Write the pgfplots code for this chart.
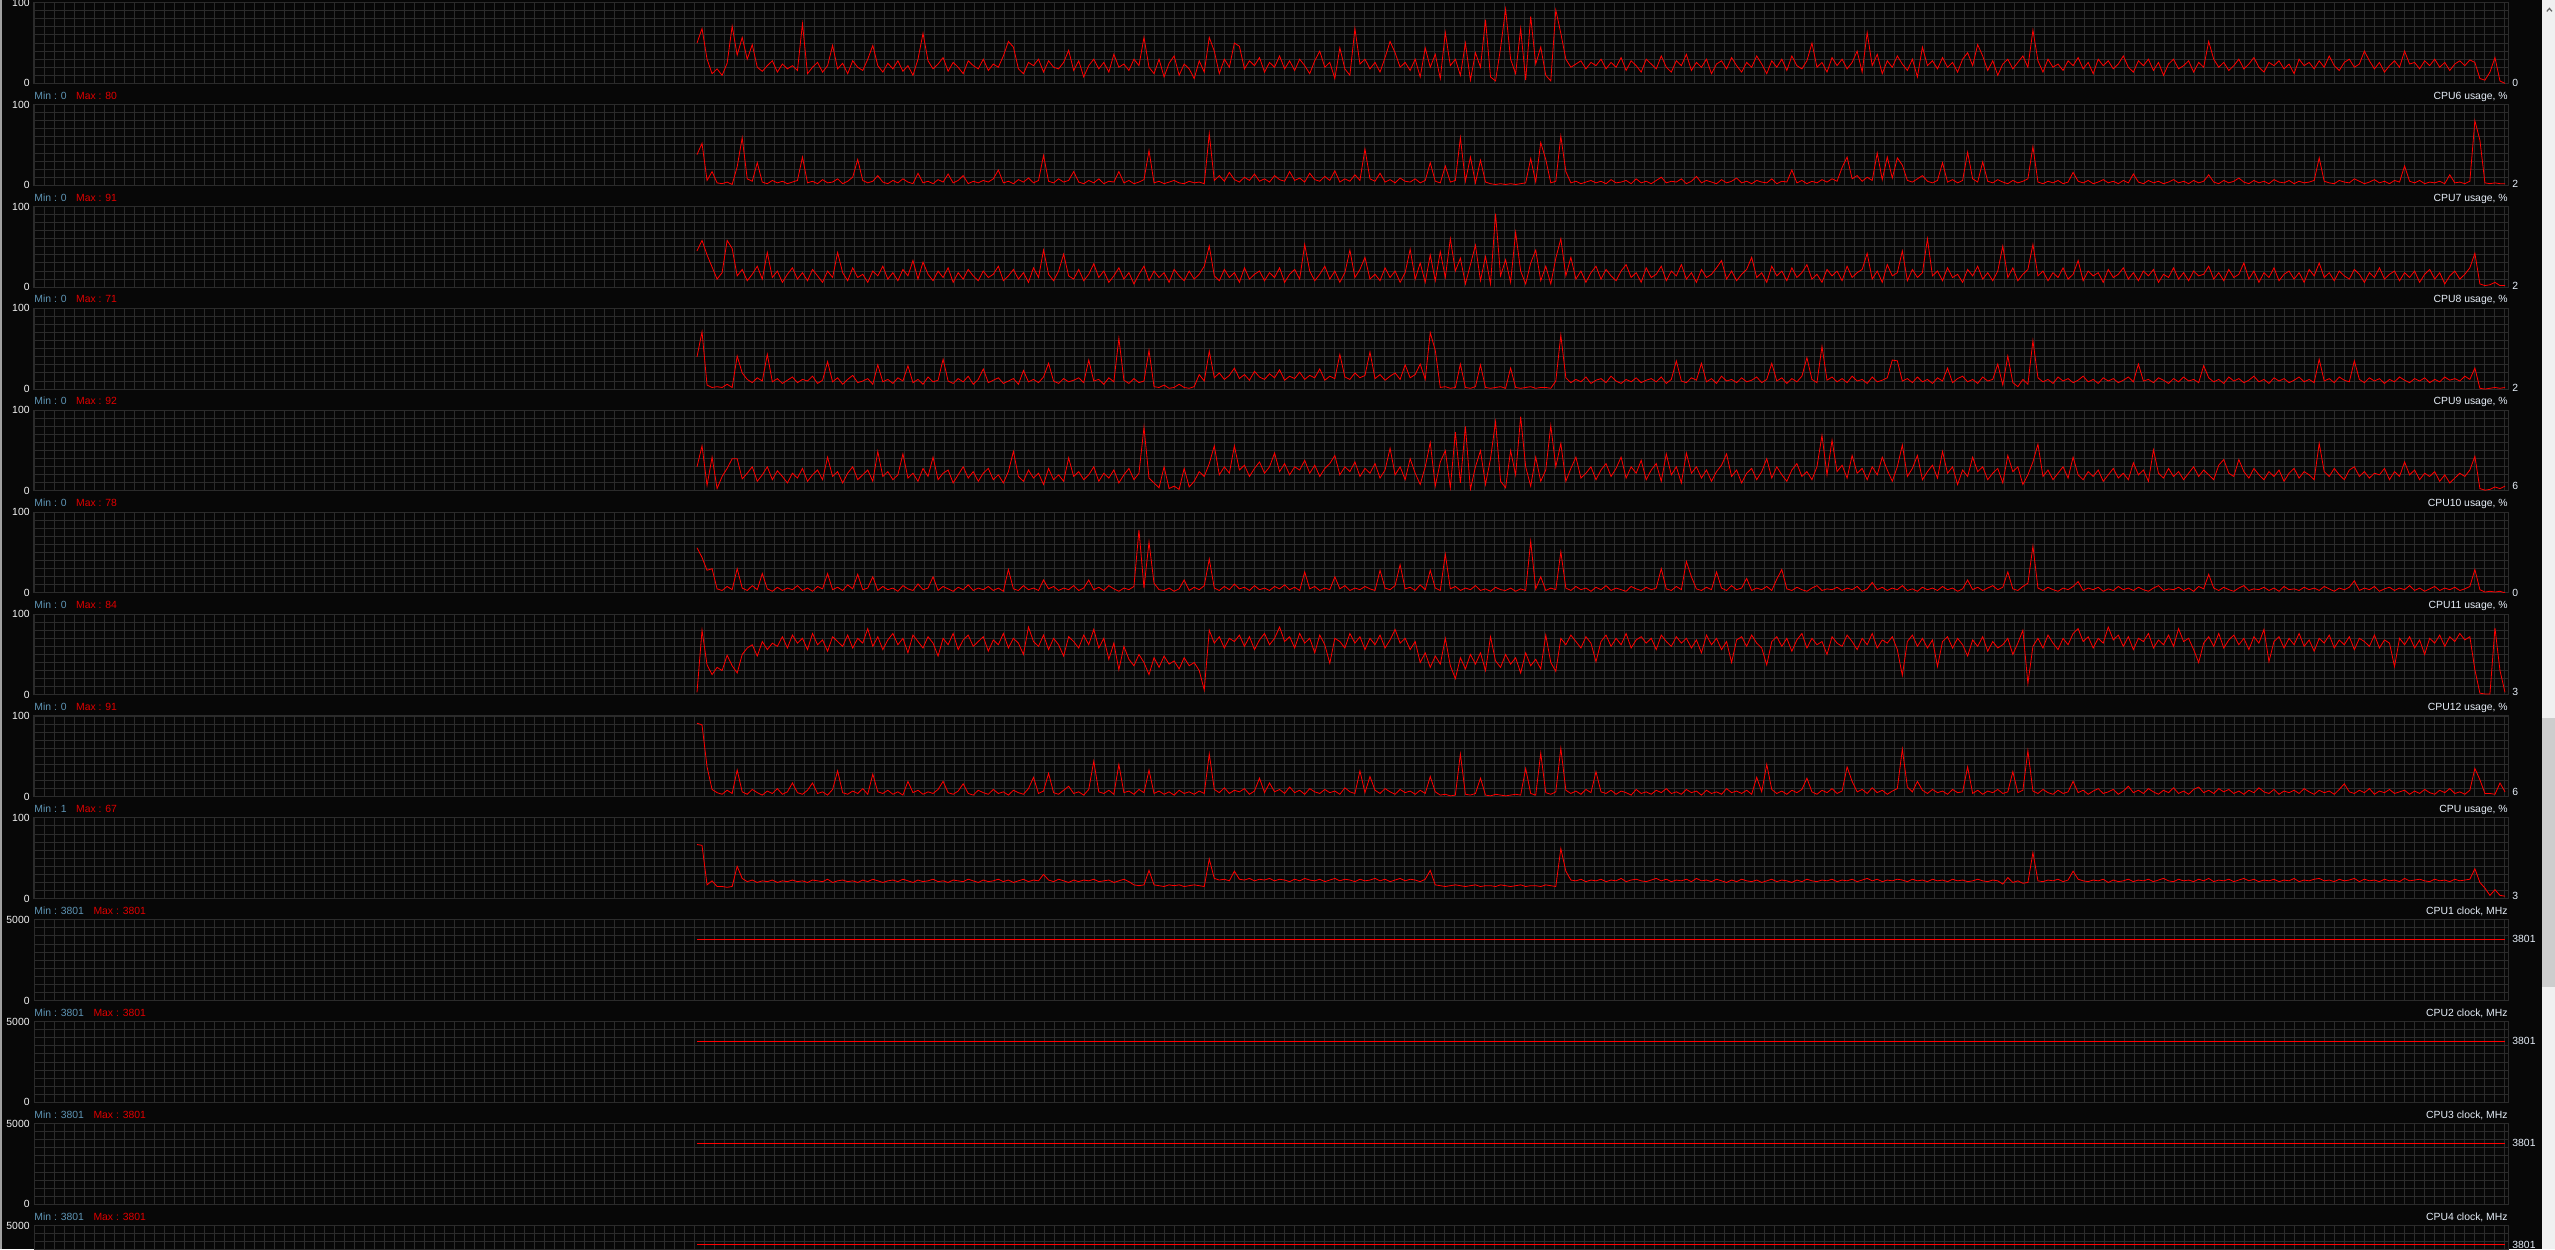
\documentclass[border=0pt]{standalone}
\usepackage{pgfplots}
\pgfplotsset{compat=1.18}
\usepackage{fontspec}
\setmainfont{Liberation Sans}
\definecolor{bgc}{HTML}{070707}
\definecolor{gridc}{HTML}{2B2B2B}
\definecolor{linered}{HTML}{FF0000}
\definecolor{minc}{HTML}{5E94B4}
\definecolor{maxc}{HTML}{E00000}
\definecolor{namec}{HTML}{E6EEF8}
\definecolor{tickc}{HTML}{F2F2F2}
\definecolor{sbtrack}{HTML}{F0F0F0}
\definecolor{sbthumb}{HTML}{CDCDCD}
\newcommand\lbl{\fontsize{5.2pt}{6pt}\selectfont}
\pgfplotsset{
 panel/.style={
  anchor=south west, scale only axis, width=1237pt, height=40.35pt,
  xmin=0, xmax=2474, xtick=\empty,
  axis line style={draw=gridc, line width=0.5pt},
  tick style={draw=none}, major tick length=0pt,
  clip mode=individual,
  /pgf/number format/assume math mode=true,
  yticklabel style={font=\lbl, text=tickc, inner sep=0pt, xshift=-2pt},
  cycle list={{color=linered, mark=none, line width=0.7pt, line join=round}},
 },
 usage/.style={panel, ymin=0, ymax=100, ytick={0,100}, yticklabels={0,100}},
 clock/.style={panel, ymin=0, ymax=5000, ytick={0,5000}, yticklabels={0,5000}},
}
\tikzset{vlab/.style={anchor=west, inner sep=0pt, font=\lbl, text=namec, xshift=2pt}}
\newcommand\head[4]{%
 \node[anchor=base west, inner sep=0pt, font=\lbl] at (17pt,#1pt) {\textcolor{minc}{Min : #2}\hspace{4.8pt}\textcolor{maxc}{Max : #3}};
 \node[anchor=base east, inner sep=0pt, font=\lbl, text=namec] at (1254pt,#1pt) {#4};}
\begin{document}
\begin{tikzpicture}
\fill[bgc] (0,0) rectangle (1277.5pt,624.5pt);
\begin{scope}
\clip (0,0) rectangle (1277.5pt,624.5pt);
\foreach \b in {582.8,531.85,480.9,429.95,379.0,328.05,277.1,226.15,175.2,124.25,73.3,22.35,-28.6}{
 \draw[gridc, line width=0.5pt, xstep=5pt, ystep=4.035pt, shift={(17pt,\b pt)}] (0,0) grid (1237pt,40.35pt);
}
% panel 0 (CPU5)
\begin{axis}[usage, at={(17pt,582.8pt)}]
\addplot table[row sep=\\, header=false, x expr=663+\coordindex*5.0222, y index=0] {
50\\68\\30\\12\\18\\10\\25\\71\\35\\57\\30\\48\\20\\15\\22\\28\\14\\24\\18\\
22\\16\\74\\12\\20\\26\\14\\22\\47\\18\\25\\12\\28\\20\\16\\30\\47\\22\\14\\
25\\18\\28\\15\\22\\10\\30\\62\\28\\18\\24\\32\\15\\26\\20\\12\\28\\22\\18\\
30\\16\\24\\20\\34\\52\\45\\18\\12\\26\\22\\30\\14\\28\\20\\18\\26\\41\\16\\
28\\8\\22\\30\\18\\26\\14\\36\\20\\24\\16\\30\\22\\57\\20\\12\\30\\8\\25\\
34\\10\\24\\18\\6\\28\\14\\57\\40\\12\\30\\20\\50\\46\\18\\28\\22\\32\\14\\
26\\20\\34\\18\\28\\16\\30\\22\\12\\28\\40\\20\\26\\6\\44\\18\\10\\68\\24\\
30\\18\\26\\14\\32\\52\\38\\20\\26\\16\\30\\8\\44\\20\\36\\6\\63\\22\\30\\
10\\50\\4\\38\\20\\79\\8\\3\\44\\92\\30\\12\\68\\4\\83\\24\\45\\10\\3\\
91\\62\\30\\20\\24\\28\\18\\26\\22\\30\\18\\26\\20\\32\\16\\28\\22\\14\\30\\
24\\18\\34\\20\\14\\28\\22\\36\\16\\26\\20\\30\\12\\24\\28\\18\\32\\22\\14\\
26\\20\\34\\24\\12\\28\\20\\30\\16\\34\\22\\18\\28\\50\\20\\26\\14\\32\\22\\
30\\18\\26\\40\\14\\63\\22\\36\\12\\28\\20\\34\\24\\16\\30\\8\\45\\22\\28\\
18\\32\\20\\26\\14\\30\\38\\22\\48\\34\\16\\28\\10\\24\\30\\18\\26\\34\\20\\
66\\28\\14\\30\\20\\24\\16\\28\\22\\32\\18\\26\\12\\30\\22\\28\\18\\24\\34\\
20\\14\\28\\22\\30\\16\\26\\10\\24\\30\\18\\22\\28\\14\\26\\20\\52\\30\\20\\
26\\16\\22\\30\\18\\24\\32\\20\\14\\26\\22\\28\\18\\24\\12\\30\\22\\26\\18\\
28\\20\\34\\22\\16\\26\\30\\20\\24\\40\\28\\18\\26\\14\\22\\28\\20\\40\\24\\
26\\18\\28\\22\\30\\20\\26\\16\\24\\28\\22\\29\\26\\6\\4\\14\\32\\3\\0\\
};
\node[vlab] at (axis cs:2474,0) {0};
\end{axis}
% panel 1 (CPU6)
\begin{axis}[usage, at={(17pt,531.85pt)}]
\addplot table[row sep=\\, header=false, x expr=663+\coordindex*5.0222, y index=0] {
38\\52\\6\\17\\3\\2\\4\\1\\23\\59\\8\\5\\28\\4\\2\\6\\3\\5\\2\\
4\\6\\35\\3\\5\\2\\7\\3\\4\\8\\2\\5\\10\\32\\6\\3\\5\\12\\4\\
2\\6\\3\\8\\4\\2\\15\\3\\5\\2\\7\\4\\14\\3\\6\\12\\2\\5\\3\\
6\\4\\8\\19\\3\\5\\2\\7\\4\\9\\3\\6\\37\\5\\3\\8\\4\\6\\17\\
4\\2\\6\\3\\8\\2\\5\\4\\17\\3\\6\\2\\4\\7\\43\\3\\5\\2\\4\\
6\\3\\2\\5\\3\\4\\2\\64\\6\\12\\5\\16\\7\\4\\10\\6\\14\\5\\8\\
4\\12\\7\\5\\17\\6\\9\\4\\15\\7\\5\\11\\6\\18\\4\\8\\5\\13\\6\\
45\\8\\5\\15\\4\\7\\3\\9\\5\\4\\8\\3\\6\\28\\5\\3\\24\\4\\6\\
59\\5\\35\\3\\31\\4\\2\\1\\2\\1\\2\\1\\2\\3\\33\\4\\53\\32\\3\\
5\\61\\17\\3\\5\\2\\4\\6\\3\\5\\2\\7\\3\\4\\6\\2\\8\\3\\5\\
2\\6\\10\\3\\5\\4\\8\\2\\5\\11\\3\\6\\4\\2\\7\\3\\5\\9\\3\\
5\\2\\6\\4\\3\\8\\2\\5\\4\\19\\3\\6\\2\\5\\3\\7\\4\\8\\5\\
22\\35\\8\\12\\5\\10\\6\\40\\7\\35\\9\\34\\25\\6\\4\\8\\12\\5\\3\\
6\\28\\4\\7\\3\\6\\41\\8\\4\\29\\5\\3\\7\\4\\2\\6\\3\\5\\8\\
48\\4\\2\\5\\3\\6\\2\\4\\16\\5\\3\\6\\2\\4\\7\\3\\5\\2\\6\\
3\\14\\4\\2\\6\\3\\5\\2\\4\\7\\3\\5\\2\\6\\3\\5\\13\\4\\2\\
6\\3\\5\\9\\4\\2\\6\\3\\5\\2\\7\\4\\3\\6\\2\\5\\3\\4\\6\\
34\\5\\3\\2\\6\\4\\3\\8\\5\\2\\4\\7\\3\\5\\2\\6\\4\\24\\5\\
3\\6\\2\\4\\3\\5\\2\\13\\3\\4\\2\\5\\80\\56\\3\\2\\3\\2\\2\\
};
\node[vlab] at (axis cs:2474,2) {2};
\end{axis}
% panel 2 (CPU7)
\begin{axis}[usage, at={(17pt,480.9pt)}]
\addplot table[row sep=\\, header=false, x expr=663+\coordindex*5.0222, y index=0] {
45\\58\\40\\25\\10\\18\\58\\48\\14\\22\\8\\16\\26\\10\\43\\12\\20\\6\\16\\
24\\10\\18\\8\\22\\14\\6\\20\\12\\43\\18\\8\\24\\12\\16\\6\\20\\14\\26\\
10\\18\\8\\22\\14\\33\\10\\31\\16\\8\\20\\12\\24\\6\\18\\10\\22\\14\\8\\
20\\12\\16\\26\\8\\14\\22\\10\\18\\6\\24\\12\\46\\16\\8\\20\\41\\14\\10\\
22\\8\\16\\29\\12\\20\\6\\14\\24\\10\\18\\4\\16\\26\\8\\20\\12\\18\\6\\
22\\14\\8\\20\\10\\16\\26\\51\\14\\8\\22\\12\\18\\6\\24\\10\\16\\20\\8\\
18\\12\\24\\6\\16\\22\\10\\53\\20\\8\\16\\26\\10\\20\\6\\18\\46\\12\\22\\
37\\10\\16\\8\\24\\12\\20\\6\\18\\47\\10\\30\\6\\40\\8\\44\\12\\60\\20\\
36\\4\\28\\52\\8\\38\\4\\91\\14\\34\\6\\68\\20\\4\\30\\46\\8\\26\\4\\
36\\60\\14\\37\\10\\20\\6\\18\\26\\10\\22\\14\\8\\20\\28\\12\\18\\6\\24\\
12\\16\\26\\8\\20\\14\\28\\10\\18\\6\\22\\12\\16\\24\\33\\10\\20\\8\\16\\
22\\37\\12\\18\\6\\26\\14\\20\\8\\24\\12\\18\\28\\10\\16\\6\\22\\14\\20\\
8\\26\\12\\18\\22\\42\\10\\20\\6\\28\\14\\18\\45\\8\\22\\12\\18\\60\\14\\
20\\8\\24\\12\\16\\6\\22\\14\\26\\10\\18\\8\\20\\51\\12\\24\\8\\16\\22\\
53\\14\\20\\8\\18\\12\\24\\10\\16\\33\\8\\20\\14\\18\\6\\22\\12\\16\\24\\
10\\18\\8\\20\\14\\22\\6\\16\\12\\24\\10\\18\\8\\20\\14\\16\\26\\10\\18\\
8\\22\\12\\16\\30\\10\\20\\6\\18\\12\\24\\8\\16\\20\\10\\18\\6\\22\\14\\
30\\12\\18\\8\\20\\14\\10\\22\\16\\6\\18\\12\\24\\10\\16\\20\\8\\18\\12\\
20\\6\\16\\22\\10\\18\\4\\14\\20\\10\\16\\24\\42\\4\\2\\3\\6\\2\\2\\
};
\node[vlab] at (axis cs:2474,2) {2};
\end{axis}
% panel 3 (CPU8)
\begin{axis}[usage, at={(17pt,429.95pt)}]
\addplot table[row sep=\\, header=false, x expr=663+\coordindex*5.0222, y index=0] {
40\\71\\5\\2\\3\\2\\6\\2\\41\\20\\12\\8\\14\\10\\43\\9\\13\\7\\11\\
15\\8\\12\\10\\16\\7\\11\\34\\9\\14\\6\\12\\17\\8\\10\\13\\6\\30\\9\\
12\\7\\14\\10\\29\\8\\12\\6\\15\\9\\11\\37\\10\\7\\13\\9\\16\\6\\12\\
25\\8\\11\\14\\7\\10\\13\\6\\23\\9\\12\\8\\15\\32\\10\\7\\13\\9\\11\\
14\\8\\36\\10\\12\\6\\14\\9\\63\\11\\7\\13\\8\\10\\48\\3\\2\\5\\1\\
2\\6\\2\\1\\3\\18\\10\\47\\14\\20\\12\\17\\26\\13\\18\\11\\22\\15\\12\\
19\\14\\24\\11\\16\\13\\21\\12\\17\\14\\25\\11\\16\\13\\43\\15\\12\\20\\14\\
17\\46\\13\\18\\11\\16\\20\\12\\30\\14\\18\\31\\12\\70\\48\\2\\3\\1\\2\\
31\\2\\1\\3\\30\\2\\1\\2\\3\\1\\26\\2\\1\\2\\3\\1\\2\\2\\1\\
10\\67\\14\\8\\12\\9\\15\\7\\11\\13\\8\\16\\10\\7\\12\\9\\14\\8\\11\\
13\\9\\15\\7\\12\\35\\10\\8\\14\\11\\32\\9\\13\\7\\16\\10\\12\\8\\14\\
9\\11\\15\\8\\12\\32\\10\\14\\7\\13\\9\\16\\39\\12\\8\\53\\11\\15\\9\\
13\\8\\16\\10\\12\\7\\15\\9\\11\\14\\36\\35\\10\\13\\8\\15\\9\\12\\7\\
14\\10\\26\\8\\13\\16\\9\\12\\7\\15\\10\\12\\31\\5\\41\\8\\3\\12\\6\\
60\\14\\9\\12\\7\\15\\10\\13\\8\\11\\16\\9\\12\\7\\14\\10\\13\\8\\11\\
15\\9\\31\\10\\12\\8\\14\\11\\7\\13\\9\\15\\10\\12\\8\\29\\14\\9\\12\\
7\\15\\10\\13\\8\\11\\16\\9\\12\\7\\14\\10\\13\\8\\11\\15\\9\\12\\8\\
37\\10\\13\\8\\15\\11\\9\\35\\12\\8\\14\\10\\13\\7\\12\\9\\15\\11\\8\\
13\\10\\14\\8\\12\\9\\15\\11\\13\\10\\16\\12\\26\\1\\0\\1\\2\\1\\2\\
};
\node[vlab] at (axis cs:2474,2) {2};
\end{axis}
% panel 4 (CPU9)
\begin{axis}[usage, at={(17pt,379.0pt)}]
\addplot table[row sep=\\, header=false, x expr=663+\coordindex*5.0222, y index=0] {
30\\56\\7\\42\\3\\18\\28\\40\\40\\15\\22\\30\\12\\20\\30\\14\\25\\18\\10\\
22\\16\\28\\12\\20\\26\\14\\42\\18\\24\\10\\22\\30\\14\\20\\26\\12\\49\\18\\
24\\14\\20\\46\\16\\22\\12\\28\\18\\42\\14\\22\\26\\10\\20\\30\\16\\24\\12\\
22\\28\\14\\20\\10\\24\\49\\18\\12\\26\\16\\22\\8\\28\\14\\20\\12\\41\\18\\
24\\14\\20\\30\\12\\22\\16\\26\\10\\20\\28\\14\\22\\79\\16\\10\\4\\30\\3\\
6\\2\\28\\5\\12\\24\\18\\34\\56\\20\\30\\22\\56\\26\\32\\18\\28\\36\\22\\
30\\47\\24\\34\\20\\30\\26\\38\\22\\32\\18\\28\\34\\44\\20\\30\\24\\36\\18\\
28\\22\\34\\16\\26\\53\\20\\30\\14\\40\\22\\8\\30\\60\\6\\36\\50\\4\\73\\
10\\80\\2\\30\\50\\8\\40\\86\\12\\4\\50\\20\\92\\30\\6\\42\\12\\26\\81\\
30\\59\\12\\28\\42\\16\\22\\30\\14\\26\\34\\18\\28\\42\\16\\30\\22\\38\\14\\
26\\34\\12\\46\\20\\30\\10\\47\\22\\30\\16\\26\\12\\24\\32\\46\\18\\26\\10\\
22\\28\\14\\24\\40\\16\\30\\20\\12\\26\\34\\18\\24\\14\\30\\69\\20\\63\\24\\
32\\16\\44\\22\\28\\14\\30\\20\\42\\26\\12\\30\\57\\18\\28\\44\\14\\24\\32\\
16\\49\\22\\30\\8\\26\\18\\42\\24\\30\\14\\22\\28\\10\\44\\24\\30\\8\\20\\
36\\58\\18\\26\\14\\22\\30\\16\\42\\20\\14\\24\\18\\26\\12\\20\\28\\16\\22\\
14\\35\\20\\26\\12\\51\\22\\16\\28\\18\\24\\14\\22\\30\\18\\26\\20\\14\\32\\
39\\22\\18\\39\\24\\16\\28\\20\\14\\24\\18\\26\\12\\22\\28\\16\\24\\20\\14\\
59\\24\\18\\28\\20\\14\\26\\30\\18\\24\\16\\22\\20\\28\\14\\24\\18\\36\\20\\
26\\14\\22\\18\\24\\12\\20\\10\\16\\22\\18\\26\\43\\3\\1\\2\\5\\3\\6\\
};
\node[vlab] at (axis cs:2474,6) {6};
\end{axis}
% panel 5 (CPU10)
\begin{axis}[usage, at={(17pt,328.05pt)}]
\addplot table[row sep=\\, header=false, x expr=663+\coordindex*5.0222, y index=0] {
56\\44\\28\\30\\5\\3\\8\\4\\30\\6\\3\\9\\4\\24\\5\\2\\7\\3\\6\\
4\\9\\3\\6\\2\\8\\5\\24\\4\\7\\3\\10\\5\\23\\4\\6\\20\\3\\8\\
4\\6\\2\\9\\5\\3\\11\\4\\6\\20\\3\\8\\5\\2\\7\\4\\10\\3\\6\\
4\\8\\3\\6\\2\\29\\5\\3\\9\\4\\6\\3\\16\\5\\8\\3\\6\\4\\9\\
3\\6\\16\\4\\7\\3\\9\\5\\2\\6\\4\\8\\78\\6\\63\\12\\4\\3\\6\\
2\\5\\16\\3\\7\\4\\9\\42\\6\\3\\8\\4\\11\\5\\7\\3\\9\\4\\6\\
3\\8\\5\\10\\4\\7\\3\\26\\5\\8\\3\\6\\4\\20\\5\\9\\3\\6\\4\\
8\\5\\3\\28\\6\\4\\9\\35\\5\\7\\3\\10\\4\\28\\6\\3\\48\\5\\8\\
3\\6\\4\\9\\3\\5\\2\\7\\4\\3\\6\\2\\5\\3\\64\\5\\20\\3\\6\\
4\\51\\6\\3\\8\\4\\6\\2\\7\\4\\9\\3\\6\\4\\2\\8\\5\\3\\7\\
4\\6\\30\\5\\3\\8\\4\\39\\20\\5\\3\\7\\4\\26\\6\\3\\9\\4\\6\\
18\\3\\6\\4\\8\\3\\17\\29\\5\\3\\7\\4\\2\\6\\9\\3\\5\\4\\7\\
3\\6\\4\\8\\2\\5\\13\\4\\7\\3\\6\\4\\9\\3\\5\\2\\7\\4\\6\\
3\\8\\4\\6\\2\\5\\16\\4\\7\\3\\6\\9\\4\\7\\26\\5\\3\\8\\12\\
58\\6\\3\\7\\4\\2\\6\\4\\8\\14\\3\\6\\4\\7\\2\\5\\3\\8\\4\\
6\\3\\7\\4\\2\\6\\9\\3\\5\\4\\7\\3\\6\\2\\8\\5\\23\\6\\3\\
7\\4\\2\\6\\9\\3\\5\\4\\7\\3\\6\\2\\8\\4\\5\\3\\7\\4\\6\\
3\\8\\5\\2\\6\\4\\7\\15\\3\\6\\4\\8\\2\\5\\7\\3\\6\\4\\9\\
3\\6\\2\\5\\8\\3\\6\\4\\7\\3\\5\\8\\29\\4\\1\\2\\1\\2\\0\\
};
\node[vlab] at (axis cs:2474,0) {0};
\end{axis}
% panel 6 (CPU11)
\begin{axis}[usage, at={(17pt,277.1pt)}]
\addplot table[row sep=\\, header=false, x expr=663+\coordindex*5.0222, y index=0] {
3\\80\\37\\25\\34\\30\\49\\36\\27\\50\\58\\62\\48\\66\\56\\64\\60\\72\\58\\
74\\64\\70\\56\\76\\62\\68\\54\\72\\66\\60\\74\\58\\70\\64\\82\\60\\72\\56\\
68\\76\\62\\70\\52\\74\\66\\58\\72\\64\\48\\70\\62\\76\\56\\68\\74\\60\\66\\
72\\54\\68\\62\\76\\58\\70\\64\\50\\84\\66\\60\\74\\56\\70\\62\\48\\72\\66\\
58\\74\\62\\81\\58\\70\\44\\64\\31\\60\\44\\36\\50\\40\\25\\46\\34\\48\\38\\
42\\32\\46\\36\\40\\30\\6\\80\\64\\72\\58\\70\\66\\74\\60\\72\\56\\68\\76\\
62\\70\\84\\66\\72\\58\\76\\64\\70\\52\\74\\62\\39\\70\\66\\58\\76\\64\\72\\
56\\70\\62\\74\\58\\68\\81\\64\\70\\56\\66\\40\\52\\34\\48\\38\\70\\36\\20\\
46\\32\\50\\38\\52\\30\\72\\42\\34\\50\\38\\46\\27\\52\\36\\44\\32\\74\\40\\
29\\70\\62\\74\\66\\58\\72\\64\\41\\66\\74\\60\\70\\62\\76\\58\\68\\72\\64\\
70\\56\\74\\66\\60\\72\\64\\70\\58\\68\\52\\74\\62\\70\\56\\66\\40\\68\\72\\
60\\74\\64\\58\\37\\66\\72\\60\\70\\54\\68\\76\\58\\70\\62\\66\\50\\72\\64\\
60\\74\\66\\56\\70\\62\\76\\58\\68\\64\\72\\56\\24\\66\\74\\60\\70\\58\\68\\
35\\66\\72\\58\\70\\62\\48\\68\\60\\72\\54\\66\\58\\62\\70\\50\\64\\80\\14\\
60\\70\\58\\74\\64\\56\\70\\62\\76\\82\\66\\72\\58\\70\\64\\84\\68\\74\\60\\
72\\56\\70\\66\\76\\58\\68\\62\\74\\60\\82\\66\\70\\56\\40\\64\\72\\60\\76\\
58\\68\\74\\62\\70\\56\\72\\64\\81\\41\\66\\72\\58\\70\\62\\76\\60\\68\\54\\
70\\64\\74\\58\\68\\62\\72\\56\\70\\66\\60\\74\\58\\68\\64\\35\\70\\62\\72\\
58\\68\\50\\70\\64\\74\\60\\72\\66\\76\\68\\72\\31\\2\\1\\1\\83\\30\\3\\
};
\node[vlab] at (axis cs:2474,3) {3};
\end{axis}
% panel 7 (CPU12)
\begin{axis}[usage, at={(17pt,226.15pt)}]
\addplot table[row sep=\\, header=false, x expr=663+\coordindex*5.0222, y index=0] {
91\\89\\37\\9\\5\\3\\8\\4\\33\\6\\3\\9\\5\\2\\7\\4\\10\\3\\6\\
17\\5\\3\\8\\17\\4\\6\\2\\9\\32\\5\\3\\7\\4\\10\\3\\28\\6\\4\\
8\\3\\6\\2\\19\\5\\8\\3\\6\\4\\9\\19\\5\\3\\7\\16\\4\\2\\8\\
5\\3\\9\\4\\6\\2\\8\\5\\3\\10\\24\\4\\7\\29\\5\\3\\8\\13\\4\\
6\\2\\9\\44\\6\\4\\8\\3\\40\\5\\7\\3\\9\\5\\33\\4\\7\\3\\6\\
2\\8\\4\\6\\3\\7\\4\\53\\9\\5\\11\\4\\8\\6\\10\\3\\7\\23\\5\\
17\\6\\9\\4\\12\\5\\8\\3\\10\\6\\4\\9\\5\\7\\3\\11\\6\\4\\32\\
5\\25\\8\\4\\10\\6\\3\\9\\5\\7\\3\\8\\4\\25\\6\\2\\3\\1\\2\\
53\\3\\2\\4\\23\\2\\1\\3\\2\\1\\2\\3\\2\\35\\4\\2\\54\\5\\3\\
6\\60\\8\\4\\7\\3\\9\\5\\31\\6\\4\\8\\3\\7\\5\\2\\9\\4\\6\\
3\\8\\5\\10\\4\\6\\3\\9\\5\\7\\2\\8\\4\\6\\3\\10\\5\\7\\4\\
8\\3\\24\\6\\40\\9\\4\\7\\3\\8\\5\\9\\23\\6\\3\\8\\5\\10\\4\\
7\\37\\19\\6\\9\\4\\11\\5\\8\\3\\7\\10\\59\\12\\6\\19\\8\\4\\9\\
5\\7\\3\\9\\5\\6\\37\\4\\8\\3\\7\\5\\9\\4\\6\\31\\5\\8\\57\\
7\\4\\9\\5\\3\\8\\4\\6\\19\\5\\8\\3\\7\\10\\4\\6\\9\\3\\7\\
13\\5\\8\\4\\10\\6\\3\\8\\5\\11\\4\\7\\3\\9\\12\\5\\8\\4\\10\\
6\\9\\4\\7\\3\\8\\5\\11\\6\\4\\9\\3\\7\\5\\8\\4\\10\\6\\3\\
8\\5\\7\\3\\9\\16\\6\\4\\8\\5\\10\\3\\7\\5\\9\\4\\6\\8\\3\\
7\\4\\9\\5\\3\\8\\5\\10\\4\\6\\3\\8\\35\\21\\4\\4\\3\\17\\6\\
};
\node[vlab] at (axis cs:2474,6) {6};
\end{axis}
% panel 8 (CPU total)
\begin{axis}[usage, at={(17pt,175.2pt)}]
\addplot table[row sep=\\, header=false, x expr=663+\coordindex*5.0222, y index=0] {
67\\66\\17\\22\\15\\15\\14\\15\\40\\25\\21\\23\\20\\22\\21\\23\\20\\22\\21\\
23\\21\\22\\20\\23\\22\\21\\24\\20\\22\\23\\21\\22\\20\\23\\21\\24\\22\\20\\
22\\23\\21\\24\\22\\20\\23\\21\\22\\24\\21\\22\\20\\23\\22\\21\\24\\22\\20\\
23\\21\\22\\24\\21\\23\\20\\22\\24\\21\\23\\22\\30\\23\\21\\24\\22\\20\\23\\
21\\23\\22\\24\\21\\22\\23\\20\\22\\24\\21\\17\\16\\17\\35\\17\\16\\15\\17\\
16\\17\\15\\16\\17\\16\\15\\49\\25\\23\\24\\22\\34\\24\\23\\25\\22\\24\\23\\
25\\22\\24\\23\\21\\24\\22\\25\\23\\22\\24\\21\\23\\25\\22\\24\\23\\21\\24\\
22\\23\\25\\22\\24\\21\\23\\25\\22\\24\\23\\21\\24\\35\\17\\16\\15\\16\\17\\
16\\15\\16\\17\\15\\16\\16\\15\\17\\16\\15\\16\\17\\15\\16\\16\\15\\17\\16\\
15\\62\\34\\23\\22\\24\\21\\23\\22\\24\\21\\23\\22\\25\\21\\23\\24\\22\\21\\
23\\25\\22\\24\\21\\23\\22\\24\\21\\25\\22\\23\\21\\24\\22\\20\\23\\21\\24\\
22\\21\\23\\20\\22\\24\\21\\23\\22\\20\\23\\21\\24\\22\\21\\23\\22\\24\\21\\
23\\22\\24\\21\\23\\25\\22\\24\\21\\23\\22\\24\\23\\21\\24\\22\\23\\21\\24\\
22\\23\\21\\24\\22\\23\\21\\22\\24\\22\\21\\23\\22\\18\\26\\20\\22\\19\\20\\
57\\22\\21\\23\\22\\24\\21\\23\\34\\24\\22\\21\\23\\22\\24\\20\\23\\21\\22\\
24\\21\\23\\22\\24\\21\\23\\25\\22\\21\\24\\22\\23\\21\\24\\22\\25\\21\\23\\
22\\24\\21\\23\\25\\22\\24\\21\\23\\22\\24\\21\\23\\22\\25\\21\\23\\22\\24\\
25\\22\\23\\21\\24\\22\\23\\25\\21\\24\\22\\23\\21\\24\\22\\23\\21\\25\\22\\
23\\24\\22\\21\\24\\22\\23\\21\\24\\22\\23\\24\\37\\20\\13\\4\\11\\4\\3\\
};
\node[vlab] at (axis cs:2474,3) {3};
\end{axis}
% clock panels
\begin{axis}[clock, at={(17pt,124.25pt)}]
\addplot coordinates {(663,3801) (2471,3801)};
\node[vlab] at (axis cs:2474,3801) {3801};
\end{axis}
\begin{axis}[clock, at={(17pt,73.3pt)}]
\addplot coordinates {(663,3801) (2471,3801)};
\node[vlab] at (axis cs:2474,3801) {3801};
\end{axis}
\begin{axis}[clock, at={(17pt,22.35pt)}]
\addplot coordinates {(663,3801) (2471,3801)};
\node[vlab] at (axis cs:2474,3801) {3801};
\end{axis}
\begin{axis}[clock, at={(17pt,-28.6pt)}]
\addplot coordinates {(663,3801) (2471,3801)};
\node[vlab] at (axis cs:2474,3801) {3801};
\end{axis}
% headers
\head{574.9}{0}{80}{CPU6 usage, \%}
\head{523.95}{0}{91}{CPU7 usage, \%}
\head{473.0}{0}{71}{CPU8 usage, \%}
\head{422.05}{0}{92}{CPU9 usage, \%}
\head{371.1}{0}{78}{CPU10 usage, \%}
\head{320.15}{0}{84}{CPU11 usage, \%}
\head{269.2}{0}{91}{CPU12 usage, \%}
\head{218.25}{1}{67}{CPU usage, \%}
\head{167.3}{3801}{3801}{CPU1 clock, MHz}
\head{116.35}{3801}{3801}{CPU2 clock, MHz}
\head{65.4}{3801}{3801}{CPU3 clock, MHz}
\head{14.45}{3801}{3801}{CPU4 clock, MHz}
% left border and scrollbar
\fill[black!37] (0,0) rectangle (0.8pt,624.5pt);
\fill[sbtrack] (1271pt,0) rectangle (1277.5pt,624.5pt);
\fill[sbthumb] (1271pt,131pt) rectangle (1277.5pt,265.5pt);
\draw[black!60, line width=0.6pt] (1273.4pt,618.8pt) -- (1274.7pt,620.3pt) -- (1276pt,618.8pt);
\end{scope}
\pgfresetboundingbox
\useasboundingbox (0,0) rectangle (1277.5pt,624.5pt);
\end{tikzpicture}
\end{document}
